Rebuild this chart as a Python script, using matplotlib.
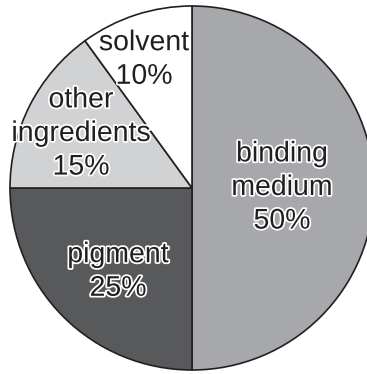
import matplotlib.pyplot as plt
import matplotlib.patheffects as pe

labels = ["binding\nmedium", "pigment", "other\ningredients", "solvent"]
shares = [50, 25, 15, 10]
colors = ["#a7a8ab", "#58595b", "#d1d2d4", "#ffffff"]

W, H = 367, 374
fig = plt.figure(figsize=(W / 100, H / 100), dpi=100)
ax = fig.add_axes([0, 0, 1, 1])

# pie in pixel coordinates, centre (192, 188 from top), radius 182
cx, cy, r = 192, H - 188, 182
ax.pie(
    shares, colors=colors, startangle=90, counterclock=False,
    center=(cx, cy), radius=r, frame=True,
    wedgeprops=dict(edgecolor="#231f20", linewidth=1.2),
)
ax.set_xlim(0, W)
ax.set_ylim(0, H)
ax.set_aspect("equal")
ax.axis("off")

# label positions (pixels from top-left)
label_pos = [(282, 188), (118, 272), (81, 134), (144, 60)]
for lab, s, (x, y) in zip(labels, shares, label_pos):
    ax.text(
        x, H - y, f"{lab}\n{s}%", ha="center", va="center",
        fontsize=20.5, family="Liberation Sans", color="#231f20",
        linespacing=1.38,
        path_effects=[pe.withStroke(linewidth=2.5, foreground="white")],
    )

plt.savefig("out.png", dpi=100)
plt.close()
